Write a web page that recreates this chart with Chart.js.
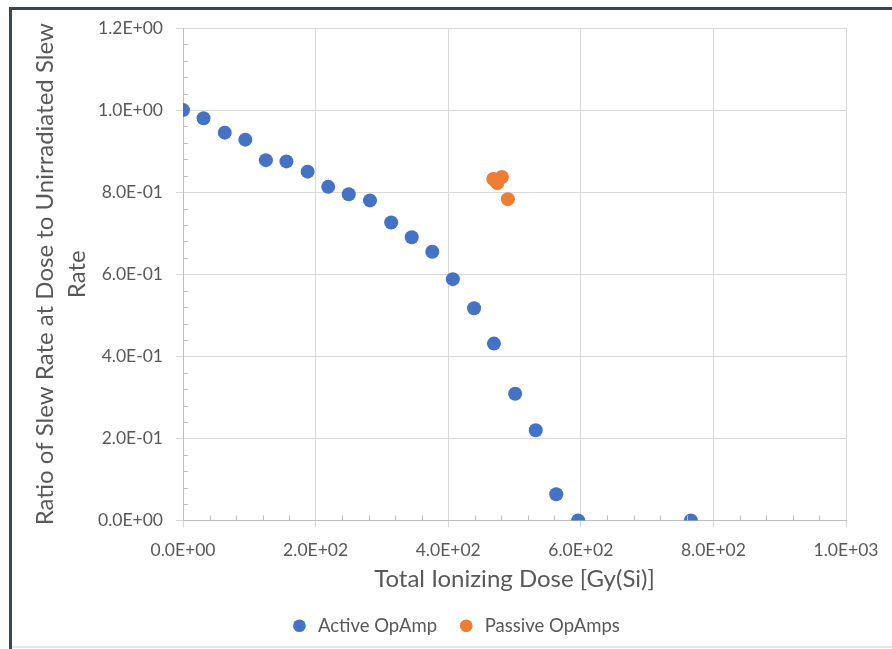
<!DOCTYPE html>
<html>
<head>
<meta charset="utf-8">
<script src="https://cdn.jsdelivr.net/npm/chart.js@4"></script>
<style>
  body { margin: 0; background: #fff; }
  canvas { display: block; }
</style>
</head>
<body>
<canvas id="slewChart" width="892" height="649"></canvas>
<script>
// Active OpAmp: dose [Gy(Si)] and slew rate ratio
const activeDose = [0, 31, 63, 94, 125, 156, 188, 219, 250, 282, 314, 345, 376, 407, 439, 469, 501, 532, 563, 596, 766];
const activeRatio = [1.0, 0.980, 0.945, 0.928, 0.878, 0.875, 0.850, 0.813, 0.795, 0.780, 0.726, 0.690, 0.655, 0.588, 0.517, 0.431, 0.309, 0.220, 0.064, 0.0, 0.0];

// Passive OpAmps
const passiveDose = [468, 481, 474, 490];
const passiveRatio = [0.832, 0.837, 0.822, 0.783];

const seriesNames = ["Active OpAmp", "Passive OpAmps"];
const xTitle = "Total Ionizing Dose [Gy(Si)]";
const yTitle = ["Ratio of Slew Rate at Dose to Unirradiated Slew", "Rate"];

const FONT = "Lato";
const GREY = "#595959";

function sci(v) {
    const [m, e] = Number(v).toExponential(1).split("e");
    return m + "E" + e[0] + e.slice(1).padStart(2, "0");
}

function toPoints(xs, ys) {
    return xs.map((x, i) => ({ x: x, y: ys[i] }));
}

// dark frame on top/left, light line at bottom
const framePlugin = {
    id: "frame",
    beforeDraw(chart) {
        const c = chart.ctx;
        c.save();
        c.fillStyle = "#fff";
        c.fillRect(0, 0, chart.width, chart.height);
        c.fillStyle = "#3b4853";
        c.fillRect(9, 7, chart.width - 9, 3);
        c.fillRect(9, 7, 3, chart.height - 7);
        c.fillStyle = "#e6e6e6";
        c.fillRect(12, chart.height - 3, chart.width - 12, 2);
        c.restore();
    }
};

// legend sits a bit right of the box centre in the original
const legendShift = {
    id: "legendShift",
    afterLayout(chart) {
        chart.legend.left += 26;
        chart.legend.right += 26;
    }
};

// minor tick marks inside the axes
const minorTicks = {
    id: "minorTicks",
    afterDatasetsDraw(chart) {
        const c = chart.ctx, xs = chart.scales.x, ys = chart.scales.y;
        c.save();
        c.strokeStyle = "#bfbfbf";
        c.lineWidth = 1;
        c.beginPath();
        for (let v = 40; v < 1000; v += 40) {
            if (v % 200 === 0) continue;
            const px = Math.round(xs.getPixelForValue(v)) + 0.5;
            c.moveTo(px, xs.top);
            c.lineTo(px, xs.top - 5);
        }
        for (let i = 1; i < 30; i++) {
            if (i % 5 === 0) continue;
            const py = Math.round(ys.getPixelForValue(i * 0.04)) + 0.5;
            c.moveTo(ys.right, py);
            c.lineTo(ys.right + 5, py);
        }
        c.stroke();
        c.restore();
    }
};

const ctx = document.getElementById("slewChart").getContext("2d");

new Chart(ctx, {
    type: "scatter",
    data: {
        datasets: [
            {
                label: seriesNames[0],
                data: toPoints(activeDose, activeRatio),
                backgroundColor: "#4472c4",
                borderColor: "#4472c4",
                borderWidth: 0,
                pointRadius: 7,
                pointHoverRadius: 7
            },
            {
                label: seriesNames[1],
                data: toPoints(passiveDose, passiveRatio),
                backgroundColor: "#ed7d31",
                borderColor: "#ed7d31",
                borderWidth: 0,
                pointRadius: 7,
                pointHoverRadius: 7
            }
        ]
    },
    options: {
        responsive: false,
        animation: false,
        layout: { padding: { left: 12, top: 28, right: 46, bottom: 4 } },
        plugins: {
            tooltip: { enabled: false },
            legend: {
                position: "bottom",
                labels: {
                    usePointStyle: true,
                    pointStyle: "circle",
                    boxHeight: 9,
                    padding: 20,
                    color: GREY,
                    font: { family: FONT, size: 18.5 }
                }
            }
        },
        scales: {
            x: {
                type: "linear",
                min: 0,
                max: 1000,
                afterFit(s) { s.height = 76; },
                ticks: {
                    stepSize: 200,
                    padding: 12,
                    color: GREY,
                    font: { family: FONT, size: 17.5 },
                    callback: v => sci(v)
                },
                grid: { color: "#d9d9d9", tickLength: 7, tickColor: "#d9d9d9" },
                border: { color: "#bfbfbf" },
                title: {
                    display: true,
                    text: xTitle,
                    color: GREY,
                    padding: { top: 0, bottom: 3 },
                    font: { family: FONT, size: 24 }
                }
            },
            y: {
                type: "linear",
                min: 0,
                max: 1.2,
                afterFit(s) { s.width = 171; },
                ticks: {
                    stepSize: 0.2,
                    padding: 13,
                    color: GREY,
                    font: { family: FONT, size: 17.5 },
                    callback: v => sci(v)
                },
                grid: { color: "#d9d9d9", tickLength: 7, tickColor: "#d9d9d9" },
                border: { color: "#bfbfbf" },
                title: {
                    display: true,
                    text: yTitle,
                    color: GREY,
                    padding: { top: 18, bottom: 0 },
                    font: { family: FONT, size: 24, lineHeight: 1.3 }
                }
            }
        }
    },
    plugins: [framePlugin, legendShift, minorTicks]
});
</script>
</body>
</html>
